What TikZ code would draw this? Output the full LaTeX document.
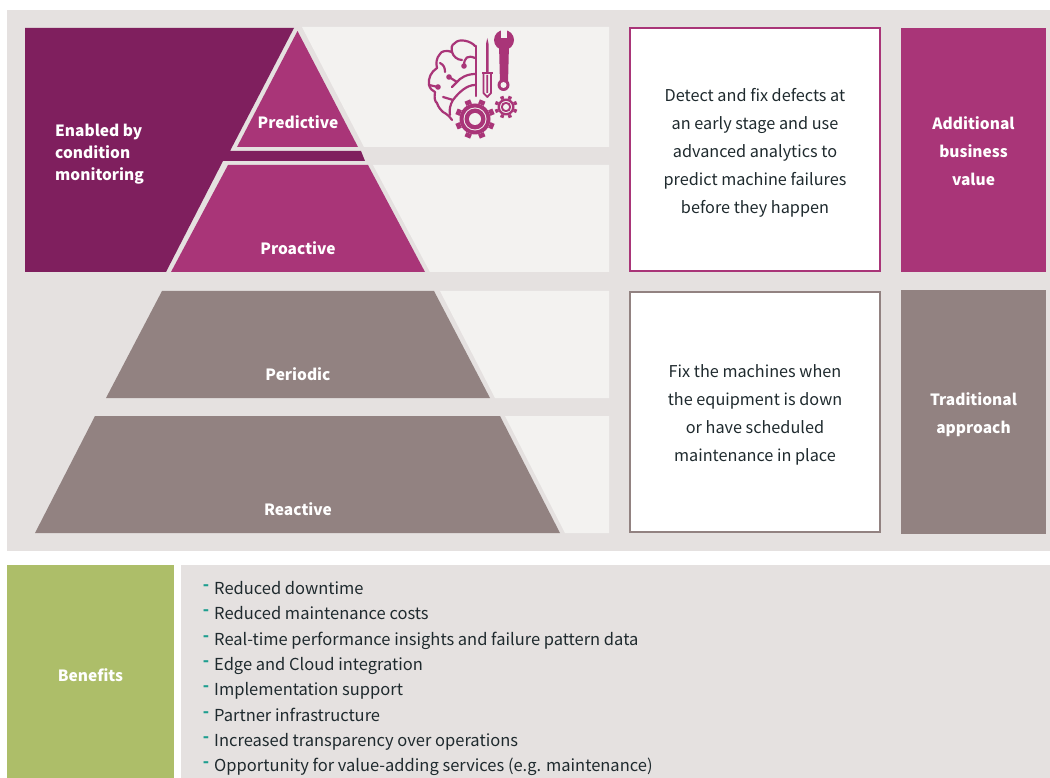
\documentclass[tikz,border=0pt]{standalone}
\usepackage{fontspec}
\setmainfont{Noto Sans CJK SC}
\definecolor{panelgray}{HTML}{E5E1E0}
\definecolor{striplight}{HTML}{F3F2F0}
\definecolor{plumdark}{HTML}{7F1F5E}
\definecolor{plum}{HTML}{A93578}
\definecolor{taupe}{HTML}{928281}
\definecolor{leaf}{HTML}{ADBE69}
\definecolor{dashteal}{HTML}{1E9E8F}
\definecolor{inkdark}{HTML}{1F2A2E}
\tikzset{
  levellabel/.style={text=white, font=\fontsize{15.5}{22}\selectfont\bfseries, align=center},
  sidebox/.style={inner sep=0pt, text=white, align=center, font=\fontsize{15.5}{28}\selectfont\bfseries},
  notebox/.style={fill=white, line width=2pt, inner sep=0pt, minimum width=250pt, align=center, text=inkdark, font=\fontsize{16.25}{28}\selectfont},
  benefititem/.style={anchor=base west, inner sep=0pt, text=inkdark, font=\fontsize{16.5}{20}\selectfont},
  iconline/.style={draw=plum, line width=2.2pt, line cap=round, line join=round},
}
\begin{document}
\begin{tikzpicture}[x=1pt, y=-1pt]
  \useasboundingbox (0, 0) rectangle (1050, 778);
  % panels
  \fill[panelgray] (7, 10) rectangle (1050, 551);
  \fill[panelgray] (181, 565) rectangle (1050, 778);
  % strips behind the pyramid
  \fill[striplight] (302, 27) -- (609, 27) -- (609, 147) -- (364, 147) -- cycle;
  \fill[striplight] (373, 165) -- (609, 165) -- (609, 272) -- (430, 272) -- cycle;
  \fill[striplight] (440, 291) -- (609, 291) -- (609, 398) -- (495, 398) -- cycle;
  \fill[striplight] (505, 416) -- (609, 416) -- (609, 533) -- (565, 533) -- cycle;
  % pyramid
  \fill[plumdark] (25, 28) -- (294, 28) -- (230, 151) -- (361, 151) -- (365, 161) -- (223, 161) -- (166, 272) -- (25, 272) -- cycle;
  \fill[plum] (297.5, 31) -- (358, 147) -- (237, 147) -- cycle;
  \fill[plum] (228, 165) -- (368, 165) -- (425, 272) -- (171, 272) -- cycle;
  \fill[taupe] (162, 291) -- (434, 291) -- (490, 398) -- (106, 398) -- cycle;
  \fill[taupe] (95, 416) -- (500, 416) -- (560, 533) -- (35, 533) -- cycle;
  % labels
  \node[levellabel, align=left, anchor=west, inner sep=0pt] (enabled) at (55, 154) {Enabled by\\condition\\monitoring};
  \node[levellabel] (predictive) at (298, 122) {Predictive};
  \node[levellabel] (proactive) at (298, 248) {Proactive};
  \node[levellabel] (periodic) at (298, 374) {Periodic};
  \node[levellabel] (reactive) at (298, 509) {Reactive};
  % right hand columns
  \node[notebox, draw=plum, minimum height=243pt] (early) at (755, 150) {};
  \node[notebox, draw=taupe, minimum height=239pt] (late) at (755, 412) {};
  \node[notebox, draw=none, fill=none, minimum height=0pt] (earlytxt) at (755, 153) {Detect and fix defects at\\an early stage and use\\advanced analytics to\\predict machine failures\\before they happen};
  \node[notebox, draw=none, fill=none, minimum height=0pt] (latetxt) at (755, 415) {Fix the machines when\\the equipment is down\\or have scheduled\\maintenance in place};
  \node[sidebox, fill=plum, minimum width=145pt, minimum height=244pt] (addvalue) at (973.5, 150) {};
  \node[sidebox, fill=taupe, minimum width=145pt, minimum height=244pt] (tradition) at (973.5, 412) {};
  \node[sidebox] (addtxt) at (973.5, 151) {Additional\\business\\value};
  \node[sidebox] (tradtxt) at (973.5, 415) {Traditional\\approach};
  % benefits
  \node[sidebox, fill=leaf, minimum width=167pt, minimum height=213pt] (benefits) at (90.5, 671.5) {};
  \node[sidebox] (benefitstxt) at (90.5, 675) {Benefits};
  \foreach \i/\ypos/\txt in {
    1/594/Reduced downtime,
    2/619/Reduced maintenance costs,
    3/645/Real-time performance insights and failure pattern data,
    4/670/Edge and Cloud integration,
    5/695/Implementation support,
    6/721/Partner infrastructure,
    7/746/Increased transparency over operations,
    8/771/{Opportunity for value-adding services (e.g. maintenance)}} {
    \node[benefititem] (item\i) at (214, \ypos) {\txt};
    \node[benefititem, text=dashteal, anchor=base east, xshift=-4.5pt, yshift=3.5pt] (dash\i) at (item\i.base west) {\textbf{-}};
  }
  % icon, brain
  \draw[iconline] (475, 46) .. controls (471, 41) and (459, 38) .. (455, 43) .. controls (451, 45) and (451, 49) .. (452, 52)
    .. controls (447, 50) and (441, 51) .. (440, 54) .. controls (436, 58) and (436, 64) .. (437, 68)
    .. controls (431, 72) and (428, 78) .. (429, 85) .. controls (430, 89) and (433, 91) .. (435, 92)
    .. controls (434, 98) and (435, 102) .. (437, 103) .. controls (438, 107) and (441, 110) .. (443, 112)
    .. controls (447, 114) and (450, 117) .. (452, 120);
  \draw[iconline] (476, 46) -- (476, 96);
  \draw[iconline] (475, 58) .. controls (468, 55) and (464, 57) .. (464, 66);
  \draw[iconline] (452, 52) .. controls (453, 56) and (457, 60) .. (462, 60);
  \draw[iconline] (440, 63) .. controls (444, 65) and (445, 68) .. (445, 72);
  \draw[iconline] (449, 77) -- (457, 82) .. controls (460, 78) and (467, 74) .. (475, 74);
  \draw[iconline] (457, 82) -- (452, 87);
  \draw[iconline] (429, 85) -- (438, 87);
  \draw[iconline] (475, 85) .. controls (467, 85) and (459, 92) .. (453, 100) -- (443, 97);
  \draw[iconline] (453, 100) .. controls (450, 105) and (449, 110) .. (450, 115);
  \fill[plum] (464, 66) circle (2.8) (449, 77) circle (2.8) (438, 87) circle (2.8);
  % icon, screwdriver
  \fill[plum] (486, 72) -- (486, 44) -- (487.3, 38) -- (488.6, 44) -- (488.6, 72) -- cycle;
  \fill[plum] (482, 72) rectangle (492.5, 74.5);
  \draw[draw=plum, line width=1.8pt, line join=round] (483.5, 74) -- (483.5, 93) -- (487.3, 97) -- (491, 93) -- (491, 74) (487.3, 75) -- (487.3, 93);
  % icon, wrench
  \fill[plum] (499, 44) -- (509, 44) -- (508, 84) -- (500, 84) -- cycle;
  \fill[plum] (504, 40) circle (10);
  \fill[striplight] (501, 29) rectangle (507, 38);
  \fill[plum] (503.5, 85) circle (6);
  \fill[striplight] (503.5, 85) circle (3);
  % icon, gears
  \foreach \cx/\cy/\rout/\rbody/\rring/\rmid/\rhole/\tw in {475/119/20/15.5/11.5/10.5/6/6, 506/107/11.5/8.5/6/5.2/3/3.5} {
    \foreach \ang in {0, 45, ..., 315}
      \fill[plum, rotate around={\ang+22.5:(\cx, \cy)}] (\cx-\tw/2, \cy-\rbody) rectangle (\cx+\tw/2, \cy-\rout);
    \fill[plum] (\cx, \cy) circle (\rbody);
    \fill[striplight] (\cx, \cy) circle (\rring);
    \fill[plum] (\cx, \cy) circle (\rmid);
    \fill[striplight] (\cx, \cy) circle (\rhole);
  }
\end{tikzpicture}
\end{document}
